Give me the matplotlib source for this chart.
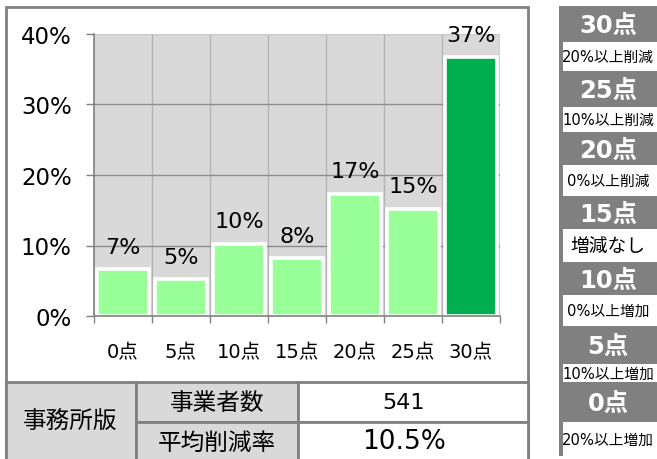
import matplotlib
matplotlib.use('Agg')
import matplotlib.pyplot as plt
from matplotlib.patches import Rectangle
from matplotlib.ticker import FixedLocator, NullFormatter

plt.rcParams['font.family'] = ['DejaVu Sans', 'Noto Sans CJK JP']

# chart data
categories = ['0点', '5点', '10点', '15点', '20点', '25点', '30点']
shares = [6.6, 5.2, 10.2, 8.2, 17.3, 15.2, 36.7]   # % of businesses
y_ticks = [0, 10, 20, 30, 40]

# summary table
table_group = '事務所版'
table_labels = ['事業者数', '平均削減率']
table_values = ['541', '10.5%']

# scoring legend (right side)
legend_points = ['30点', '25点', '20点', '15点', '10点', '5点', '0点']
legend_ranges = ['20%以上削減', '10%以上削減', '0%以上削減', '増減なし',
                 '0%以上増加', '10%以上増加', '20%以上増加']

GRAY = '#808080'
LIGHT = '#d9d9d9'
W, H = 657, 460

fig = plt.figure(figsize=(W / 100, H / 100), dpi=100)
fig.patch.set_facecolor('white')

# background layer in pixel coordinates
bg = fig.add_axes([0, 0, 1, 1], zorder=0)
bg.set_xlim(0, W)
bg.set_ylim(H, 0)
bg.axis('off')

# outer frame
bg.add_patch(Rectangle((5.5, 7.5), 522, 480, facecolor='white', edgecolor=GRAY, lw=2))

# table cells
bg.add_patch(Rectangle((5.5, 383), 130.5, 100, facecolor=LIGHT, edgecolor=GRAY, lw=2))
bg.add_patch(Rectangle((136, 383), 162, 40, facecolor=LIGHT, edgecolor=GRAY, lw=2))
bg.add_patch(Rectangle((136, 423), 162, 60, facecolor=LIGHT, edgecolor=GRAY, lw=2))
bg.add_patch(Rectangle((298, 383), 229.5, 40, facecolor='white', edgecolor=GRAY, lw=2))
bg.add_patch(Rectangle((298, 423), 229.5, 60, facecolor='white', edgecolor=GRAY, lw=2))

bg.text(70, 421, table_group, ha='center', va='center', fontsize=17)
bg.text(217, 403, table_labels[0], ha='center', va='center', fontsize=17)
bg.text(217, 443, table_labels[1], ha='center', va='center', fontsize=17)
bg.text(404, 403, table_values[0], ha='center', va='center', fontsize=16)
bg.text(404, 442, table_values[1], ha='center', va='center', fontsize=19)

# legend panel
bg.add_patch(Rectangle((559, 7), 110, 450, facecolor=GRAY, edgecolor='none'))
gray_spans = [(7, 43), (72, 108), (133, 166), (197, 230), (263, 296), (327, 365), (383, 423)]
white_spans = [(43, 72), (108, 133), (166, 197), (230, 263), (296, 327), (365, 383), (423, 457)]
for (g0, g1), label in zip(gray_spans, legend_points):
    bg.text(608, (g0 + g1) / 2 + 1, label, ha='center', va='center', fontsize=17.5,
            fontweight='bold', color='white')
for (w0, w1), label in zip(white_spans, legend_ranges):
    bg.add_patch(Rectangle((563, w0), 110, w1 - w0, facecolor='white', edgecolor='none'))
    size = 13.5 if label == '増減なし' else 10.6
    yc = (w0 + w1) / 2 + (6 if w1 - w0 > 35 else 0)
    bg.text(608, yc, label, ha='center', va='center', fontsize=size, color='black')

# bar chart
ax = fig.add_axes([94 / W, 1 - 317 / H, (500 - 94) / W, (317 - 35) / H], zorder=1)
ax.set_facecolor(LIGHT)
x = list(range(len(categories)))
colors = ['#99ff99'] * (len(categories) - 1) + ['#00b050']
for xb in [i + 0.5 for i in x]:
    ax.axvline(xb, color='#b4b4b4', lw=1, zorder=1)
for yv in y_ticks[1:]:
    ax.axhline(yv, color='#8c8c8c' if yv < 40 else '#c8c8c8', lw=1, zorder=1)
ax.bar(x, shares, width=0.88, color=colors, edgecolor='white', linewidth=2.6, zorder=2)
for xi, v in zip(x, shares):
    ax.annotate(f'{v:.0f}%', (xi, v), xytext=(0, 12), textcoords='offset points',
                ha='center', va='baseline', fontsize=16, zorder=3)

ax.set_xlim(-0.5, len(categories) - 0.5)
ax.set_ylim(0, 40)
ax.set_yticks(y_ticks)
ax.set_yticklabels([f'{v}%' for v in y_ticks])
ax.tick_params(axis='y', direction='out', length=6, width=1, color=GRAY, pad=10, labelsize=16.5)

ax.xaxis.set_major_locator(FixedLocator([i - 0.5 for i in range(len(categories) + 1)]))
ax.xaxis.set_major_formatter(NullFormatter())
ax.set_xticks(x, minor=True)
ax.set_xticklabels(categories, minor=True)
ax.tick_params(axis='x', which='major', direction='out', length=5, width=1, color=GRAY)
ax.tick_params(axis='x', which='minor', length=0, pad=19, labelsize=14)

for side in ['top', 'right']:
    ax.spines[side].set_visible(False)
for side in ['left', 'bottom']:
    ax.spines[side].set_color(GRAY)
    ax.spines[side].set_linewidth(1.2)

fig.savefig('out.png', dpi=100)
